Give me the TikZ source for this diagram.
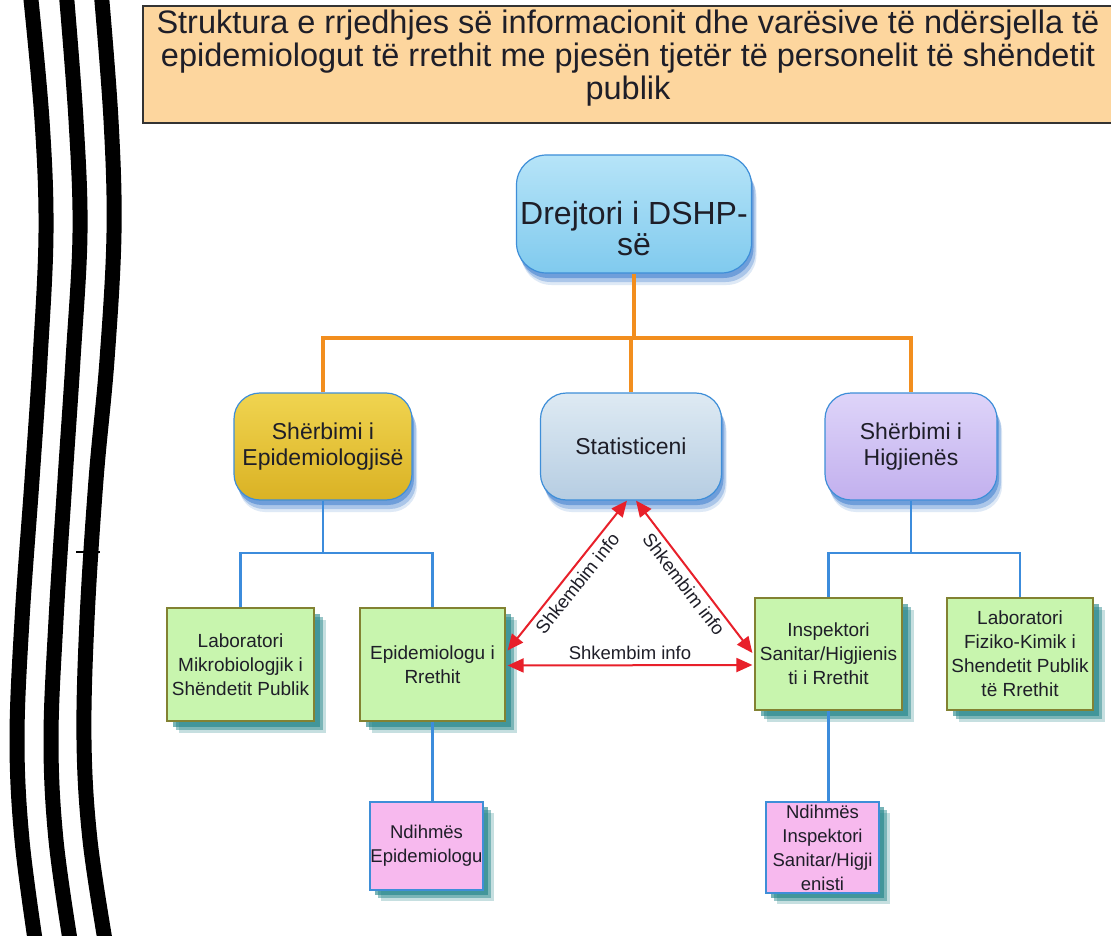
\documentclass[tikz,border=0pt]{standalone}
\usepackage{fontspec}
\setmainfont{Liberation Sans}
\usetikzlibrary{arrows.meta,shadows,calc}
\definecolor{titlefill}{RGB}{253,214,158}
\definecolor{orangeline}{RGB}{242,142,30}
\definecolor{blueline}{RGB}{60,140,220}
\definecolor{boxblue}{RGB}{62,142,216}
\definecolor{shblue}{RGB}{40,110,200}
\definecolor{shteal}{RGB}{30,130,135}
\definecolor{greenfill}{RGB}{200,245,174}
\definecolor{olive}{RGB}{130,130,50}
\definecolor{pinkfill}{RGB}{247,185,238}
\definecolor{arrowred}{RGB}{232,32,42}
\definecolor{txt}{RGB}{30,30,40}
\tikzset{
  roundbox/.style={rectangle, rounded corners=26pt, draw=boxblue, line width=1.2pt,
    text=txt, align=center, minimum width=#1, minimum height=107pt, inner sep=0pt,
    general shadow={fill=shblue, opacity=.15, shadow xshift=5pt, shadow yshift=-12pt},
    general shadow={fill=shblue, opacity=.28, shadow xshift=4pt, shadow yshift=-9pt},
    general shadow={fill=shblue, opacity=.45, shadow xshift=2pt, shadow yshift=-5pt},
    font=\fontsize{23}{26}\selectfont},
  greenbox/.style={rectangle, draw=olive, line width=1.2pt, fill=greenfill, text=txt,
    align=center, inner sep=0pt,
    general shadow={fill=shteal, opacity=.25, shadow xshift=12pt, shadow yshift=-12pt},
    general shadow={fill=shteal, opacity=.45, shadow xshift=9pt, shadow yshift=-9pt},
    general shadow={fill=shteal, opacity=.6, shadow xshift=6pt, shadow yshift=-6pt},
    font=\fontsize{19}{24}\selectfont},
  pinkbox/.style={rectangle, draw=boxblue, line width=1.5pt, fill=pinkfill, text=txt,
    align=center, inner sep=0pt, minimum width=113pt,
    general shadow={fill=shteal, opacity=.25, shadow xshift=11pt, shadow yshift=-11pt},
    general shadow={fill=shteal, opacity=.45, shadow xshift=8pt, shadow yshift=-8pt},
    general shadow={fill=shteal, opacity=.6, shadow xshift=5pt, shadow yshift=-5pt},
    font=\fontsize{18.5}{24}\selectfont},
  orangeconn/.style={draw=orangeline, line width=3.5pt},
  blueconn/.style={draw=blueline, line width=2.2pt},
  redarrow/.style={draw=arrowred, line width=2pt,
    arrows={Triangle[length=16pt,width=14pt]-Triangle[length=16pt,width=14pt]}},
  infolabel/.style={font=\fontsize{18.5}{20}\selectfont, text=txt, inner sep=5pt},
  wave/.style={line width=15pt, black}
}
\begin{document}
\begin{tikzpicture}[x=1pt,y=-1pt]
\useasboundingbox (0,0) rectangle (1111,936);
\fill[white] (0,0) rectangle (1111,936);

% wavy lines
\draw[wave] plot[smooth, tension=0.6] coordinates {(30,-10) (42,120) (46,233) (40,360) (32,480) (22,620) (17,740) (22,840) (36,946)};
\draw[wave] plot[smooth, tension=0.6] coordinates {(66,-10) (76,120) (80,233) (73,360) (65,480) (56,620) (51,740) (56,840) (71,946)};
\draw[wave] plot[smooth, tension=0.6] coordinates {(101,-10) (111,120) (114,233) (107,360) (96,480) (87,620) (84,740) (90,840) (106,946)};
\draw[line width=1.5pt] (76,552) -- (100,552);

% title
\node[rectangle, draw=black!80, line width=1.2pt, fill=titlefill, minimum width=972pt, minimum height=117pt, inner sep=0pt] (title) at (629,64.5) {};
\node[text=txt, align=center, font=\fontsize{32.5}{33}\selectfont] (titletext) at (628,58) {Struktura e rrjedhjes së informacionit dhe varësive të ndërsjella të\\ epidemiologut të rrethit me pjesën tjetër të personelit të shëndetit\\ publik};

% top node
\node[roundbox=235pt, minimum height=118pt, rounded corners=30pt, top color={rgb,255:red,182;green,228;blue,248}, bottom color={rgb,255:red,128;green,202;blue,238}, font=\fontsize{32}{29}\selectfont] (drej) at (634,214) {\raisebox{-25pt}[0pt][0pt]{\begin{tabular}{@{}c@{}}Drejtori i DSHP-\\[0pt] së\end{tabular}}};

% middle row
\node[roundbox=178pt, top color={rgb,255:red,240;green,212;blue,80}, bottom color={rgb,255:red,218;green,178;blue,36}] (epi) at (323,446.5) {Shërbimi i\\ Epidemiologjisë};
\node[roundbox=181pt, top color={rgb,255:red,222;green,234;blue,243}, bottom color={rgb,255:red,182;green,205;blue,226}] (stat) at (631,446.5) {Statisticeni};
\node[roundbox=172pt, top color={rgb,255:red,222;green,212;blue,249}, bottom color={rgb,255:red,194;green,176;blue,238}] (hig) at (911,446.5) {Shërbimi i\\ Higjienës};

% lower row
\node[greenbox, minimum width=147pt, minimum height=113pt] (lab1) at (240.5,664.5) {Laboratori\\ Mikrobiologjik i\\ Shëndetit Publik};
\node[greenbox, minimum width=145pt, minimum height=113pt] (epir) at (432.5,664.5) {Epidemiologu i\\ Rrethit};
\node[greenbox, minimum width=147pt, minimum height=112pt] (insp) at (828.5,654) {Inspektori\\ Sanitar/Higjienis\\ ti i Rrethit};
\node[greenbox, minimum width=146pt, minimum height=112pt] (lab2) at (1020,654) {Laboratori\\ Fiziko-Kimik i\\ Shendetit Publik\\ të Rrethit};

% bottom row
\node[pinkbox, minimum height=88pt] (ndE) at (426.5,846) {Ndihmës\\ Epidemiologu};
\node[pinkbox, minimum height=91pt] (ndI) at (822.5,847.5) {Ndihmës\\ Inspektori\\ Sanitar/Higji\\ enisti};

% orange connectors
\coordinate (obar) at (0,338);
\draw[orangeconn] (drej.south) -- (drej.south |- obar);
\draw[orangeconn] (epi.north) -- (epi.north |- obar) -- (hig.north |- obar) -- (hig.north);
\draw[orangeconn] (stat.north) -- (stat.north |- obar);

% blue connectors
\coordinate (bbar) at (0,553);
\draw[blueconn] (epi.south) -- (epi.south |- bbar);
\draw[blueconn] (lab1.north) -- (lab1.north |- bbar) -- (epir.north |- bbar) -- (epir.north);
\draw[blueconn] (hig.south) -- (hig.south |- bbar);
\draw[blueconn] (insp.north) -- (insp.north |- bbar) -- (lab2.north |- bbar) -- (lab2.north);
\draw[blueconn] (epir.south) -- (epir.south |- ndE.north);
\draw[blueconn] (insp.south) -- (insp.south |- ndI.north);

% red info arrows
\draw[redarrow] ([xshift=2pt,yshift=14pt]epir.east) -- node[infolabel, midway, sloped, below] {Shkembim info} ([xshift=-4pt]stat.south);
\draw[redarrow] ([xshift=5pt]stat.south) -- node[infolabel, midway, sloped, below] {Shkembim info} ([xshift=-2pt,yshift=1pt]insp.west);
\draw[redarrow] ([xshift=2pt,yshift=-1pt]epir.east) -- node[infolabel, midway, above] {Shkembim info} ([xshift=-2pt,yshift=-11pt]insp.west);
\end{tikzpicture}
\end{document}
